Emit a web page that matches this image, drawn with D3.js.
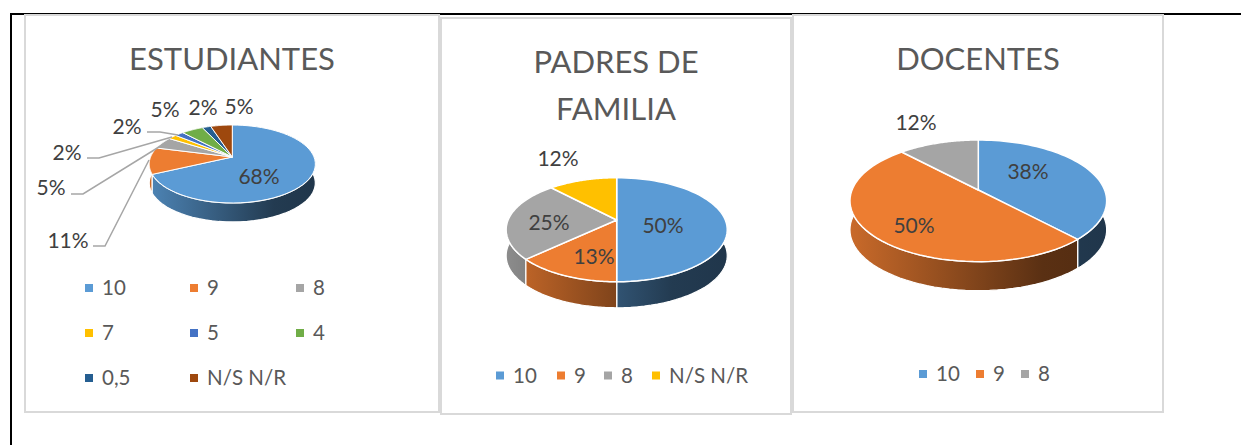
<!DOCTYPE html>
<html><head><meta charset="utf-8">
<script src="https://cdn.jsdelivr.net/npm/d3@7"></script>
<style>html,body{margin:0;padding:0;background:#fff}svg{display:block}text{font-family:Lato,"Open Sans",sans-serif}</style>
</head><body><svg id="c" width="1241" height="445"></svg>
<script>
const colors = ["#5b9bd5","#ed7d31","#a5a5a5","#ffc000","#4472c4","#70ad47","#255e91","#9e480e"];
const estCats = ["10","9","8","7","5","4","0,5","N/S N/R"];
const estVals = [68,11,5,2,2,5,2,5];
const padCats = ["10","9","8","N/S N/R"];
const padVals = [50,13,25,12];
const padColors = ["#5b9bd5","#ed7d31","#a5a5a5","#ffc000"];
const docCats = ["10","9","8"];
const docVals = [38,50,12];

const svg = d3.select("#c");
const defs = svg.append("defs");

// page frame
svg.append("path").attr("d","M11,445V14H1241").attr("fill","none").attr("stroke","#000").attr("stroke-width",2);

// chart panels
const panels = [
 {x:25,y:15,w:414,h:397},
 {x:441,y:18,w:350,h:396},
 {x:793,y:15,w:370,h:397}
];
panels.forEach(p=>svg.append("rect").attr("x",p.x).attr("y",p.y).attr("width",p.w).attr("height",p.h)
  .attr("fill","#fff").attr("stroke","#d9d9d9").attr("stroke-width",2));

let gid=0;
function pie3d(o){
  const g = svg.append("g");
  const arcs = d3.pie().sort(null)(o.values);
  const k=o.k;
  const proj = (a,r=1)=>{ const u=r*Math.sin(a), v=r*Math.cos(a), s=1/(1+k*v);
    return [o.x+o.b*u*s, o.y-o.a*v*s]; };
  const line = d3.line();
  const rim = (a0,a1)=>d3.range(0,61).map(i=>proj(a0+(a1-a0)*i/60));
  const left=o.x-o.rx, right=o.x+o.rx;
  // side walls: painted from the back of the disk towards the viewer
  const order = arcs.map((d,i)=>({d,i})).sort((p,q)=>{
    const m=e=>Math.cos((e.d.startAngle+e.d.endAngle)/2); return m(q)-m(p);});
  order.forEach(({d,i})=>{
    const id="w"+(gid++);
    const c=d3.rgb(o.colors[i]);
    const shade=f=>d3.rgb(c.r*f,c.g*f,c.b*f).formatHex();
    const gr=defs.append("linearGradient").attr("id",id).attr("gradientUnits","userSpaceOnUse")
      .attr("x1",left).attr("x2",right).attr("y1",0).attr("y2",0);
    gr.append("stop").attr("offset",0).attr("stop-color",shade(.85));
    gr.append("stop").attr("offset",.75).attr("stop-color",shade(.38));
    gr.append("stop").attr("offset",1).attr("stop-color",shade(.35));
    const top=rim(d.startAngle,d.endAngle);
    const bot=top.slice().reverse().map(p=>[p[0],p[1]+o.depth]);
    g.append("path").attr("d",line(top.concat(bot))+"Z").attr("fill",`url(#${id})`)
      .attr("stroke","#fff").attr("stroke-width",1.2).attr("stroke-linejoin","round");
  });
  // top face
  arcs.forEach((d,i)=>{
    g.append("path").attr("d",line([[o.x,o.y],...rim(d.startAngle,d.endAngle)])+"Z")
      .attr("fill",o.colors[i]).attr("stroke","#fff").attr("stroke-width",o.sw).attr("stroke-linejoin","round");
  });
  // leader lines
  (o.leaders||[]).forEach(l=>g.append("path").attr("d",line(l)).attr("fill","none").attr("stroke","#a6a6a6").attr("stroke-width",1.5));
  // percentage labels
  o.labelPos.forEach((p,i)=>g.append("text").attr("x",p[0]).attr("y",p[1]-1.5).attr("text-anchor","middle")
    .attr("dominant-baseline","central").attr("font-size",o.labelSize).attr("fill","#404040").text(o.values[i]+"%"));
  // title
  o.title.forEach((t,i)=>g.append("text").attr("x",o.titleX).attr("y",o.titleY+i*o.titleLead).attr("text-anchor","middle")
    .attr("font-size",o.titleSize).attr("fill","#595959").text(t));
  // legend
  o.legend.forEach((p,i)=>{
    g.append("rect").attr("x",p[0]-4).attr("y",p[1]-4).attr("width",8).attr("height",8).attr("fill",o.colors[i]);
    g.append("text").attr("x",p[0]+13).attr("y",p[1]-1).attr("dominant-baseline","central")
      .attr("font-size",o.legendSize).attr("fill","#595959").text(o.cats[i]);
  });
}

pie3d({values:estVals,cats:estCats,colors:colors,x:232.3,y:157,a:37.7,b:81.7,k:.18,rx:83,depth:19,sw:1,
  title:["ESTUDIANTES"],titleX:232,titleY:70,titleLead:0,titleSize:31,labelSize:21,legendSize:20.5,
  labelPos:[[259,177],[68,241],[51,188],[67,153],[127,127],[165,110],[203,108],[239,107]],
  leaders:[[[93,246],[105,246],[149,160]],[[71,194],[83,194],[167,142]],[[87,158],[99,158],[172,137]],[[147,132],[160,132],[178,135]]],
  legend:[[89,288],[194,288],[300,288],[89,333],[194,333],[300,333],[89,378],[194,378]]});
pie3d({values:padVals,cats:padCats,colors:padColors,x:616.7,y:220,a:50.2,b:108.6,k:.187,rx:110.5,depth:26,sw:1.5,
  title:["PADRES DE","FAMILIA"],titleX:616,titleY:73,titleLead:47,titleSize:31,labelSize:21,legendSize:20.5,
  labelPos:[[663,226],[594,257],[549,223],[558,159]],
  legend:[[500,375.5],[561,375.5],[608,375.5],[656,375.5]]});
pie3d({values:docVals,cats:docCats,colors:colors,x:978.3,y:190,a:58.9,b:126.3,k:.178,rx:128.3,depth:29,sw:1.5,
  title:["DOCENTES"],titleX:978,titleY:70,titleLead:0,titleSize:31,labelSize:21,legendSize:20.5,
  labelPos:[[1028,172],[914,226],[916,123]],
  legend:[[923,374],[980,374],[1025,374]]});
</script></body></html>
